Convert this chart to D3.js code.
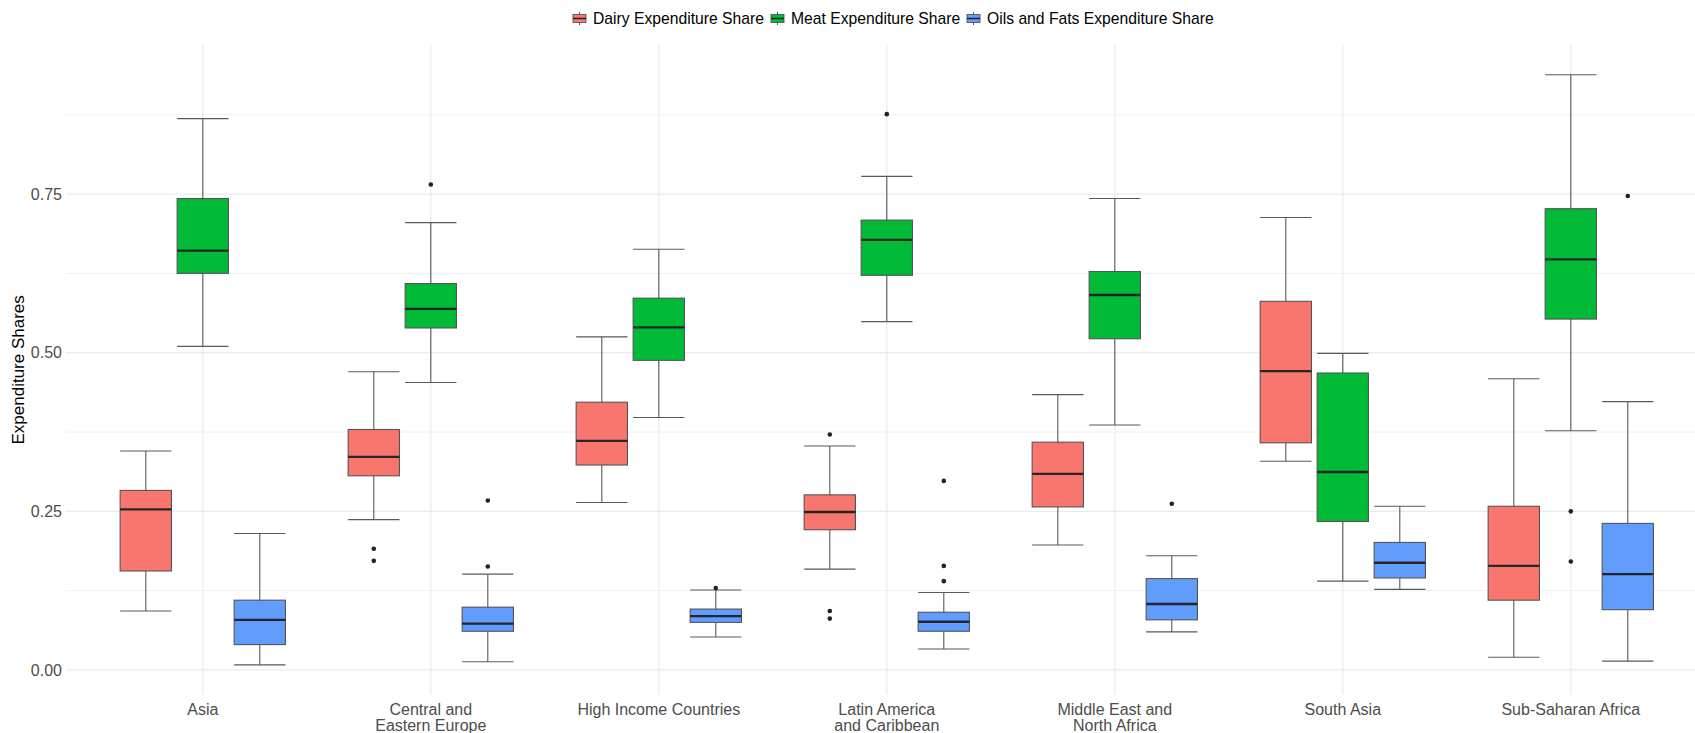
<!DOCTYPE html>
<html>
<head>
<meta charset="utf-8">
<script src="https://cdn.jsdelivr.net/npm/d3@7"></script>
<style>
  html, body { margin: 0; padding: 0; background: #ffffff; }
  svg { display: block; font-family: "Liberation Sans", Arial, sans-serif; }
</style>
</head>
<body>
<svg id="chart" width="1695" height="733"></svg>
<script>
// ---------- data ----------
const categories = [
  "Asia",
  "Central and\nEastern Europe",
  "High Income Countries",
  "Latin America\nand Caribbean",
  "Middle East and\nNorth Africa",
  "South Asia",
  "Sub-Saharan Africa"
];
const seriesNames = ["Dairy Expenditure Share", "Meat Expenditure Share", "Oils and Fats Expenditure Share"];
const seriesColors = ["#F8766D", "#00BA38", "#619CFF"];
const yTicks = [0, 0.25, 0.5, 0.75];
const yTickLabels = ["0.00", "0.25", "0.50", "0.75"];
const yMinorTicks = [0.125, 0.375, 0.625, 0.875];

// [whisker low, Q1, median, Q3, whisker high]
const dairyStats = [
  [0.093, 0.156, 0.253, 0.283, 0.345],
  [0.237, 0.306, 0.336, 0.379, 0.470],
  [0.264, 0.323, 0.361, 0.422, 0.525],
  [0.159, 0.221, 0.249, 0.276, 0.353],
  [0.197, 0.257, 0.309, 0.359, 0.434],
  [0.329, 0.358, 0.471, 0.581, 0.713],
  [0.020, 0.110, 0.164, 0.258, 0.459]
];
const dairyOutliers = [[], [0.191, 0.172], [], [0.371, 0.093, 0.081], [], [], []];

const meatStats = [
  [0.510, 0.625, 0.661, 0.743, 0.869],
  [0.453, 0.539, 0.569, 0.609, 0.705],
  [0.398, 0.488, 0.540, 0.586, 0.663],
  [0.549, 0.622, 0.678, 0.709, 0.778],
  [0.386, 0.522, 0.591, 0.628, 0.743],
  [0.140, 0.234, 0.312, 0.468, 0.499],
  [0.377, 0.553, 0.647, 0.727, 0.938]
];
const meatOutliers = [[], [0.765], [], [0.876], [], [], [0.250, 0.171]];

const oilsStats = [
  [0.008, 0.040, 0.079, 0.110, 0.215],
  [0.013, 0.061, 0.073, 0.099, 0.151],
  [0.052, 0.075, 0.085, 0.096, 0.126],
  [0.033, 0.061, 0.076, 0.091, 0.122],
  [0.060, 0.079, 0.104, 0.144, 0.180],
  [0.127, 0.145, 0.169, 0.201, 0.258],
  [0.014, 0.095, 0.151, 0.231, 0.423]
];
const oilsOutliers = [[], [0.267, 0.163], [0.129], [0.298, 0.164, 0.140], [0.262], [], [0.747]];

const allStats = [dairyStats, meatStats, oilsStats];
const allOutliers = [dairyOutliers, meatOutliers, oilsOutliers];
const dodgeOffsets = [-0.25, 0, 0.25];

// ---------- layout ----------
const W = 1695, H = 733;
const panel = { left: 66, right: 1707.6, top: 45.3, bottom: 694.4 };
const svg = d3.select("#chart");

const x = d3.scaleLinear().domain([-0.6, categories.length - 1 + 0.6]).range([panel.left, panel.right]);
const y = d3.scaleLinear().domain([-0.0385, 0.9845]).range([panel.bottom, panel.top]);
const boxW = x(0.225) - x(0);

// ---------- grid ----------
const grid = svg.append("g");
grid.selectAll("line.minor").data(yMinorTicks).enter().append("line")
  .attr("x1", panel.left).attr("x2", W)
  .attr("y1", d => y(d)).attr("y2", d => y(d))
  .attr("stroke", "#EBEBEB").attr("stroke-width", 0.7);
grid.selectAll("line.major").data(yTicks).enter().append("line")
  .attr("x1", panel.left).attr("x2", W)
  .attr("y1", d => y(d)).attr("y2", d => y(d))
  .attr("stroke", "#EBEBEB").attr("stroke-width", 1.3);
grid.selectAll("line.vmajor").data(categories).enter().append("line")
  .attr("x1", (d, i) => x(i)).attr("x2", (d, i) => x(i))
  .attr("y1", panel.top).attr("y2", panel.bottom)
  .attr("stroke", "#EBEBEB").attr("stroke-width", 1.3);

// ---------- boxes ----------
const marks = svg.append("g");
allStats.forEach((stats, s) => {
  const g = marks.append("g");
  stats.forEach((st, i) => {
    const cx = x(i + dodgeOffsets[s]);
    g.append("line").attr("x1", cx).attr("x2", cx)
      .attr("y1", y(st[0])).attr("y2", y(st[4]))
      .attr("stroke", "#595959").attr("stroke-width", 1.1);
    [st[0], st[4]].forEach(v => {
      g.append("line").attr("x1", cx - boxW / 2).attr("x2", cx + boxW / 2)
        .attr("y1", y(v)).attr("y2", y(v))
        .attr("stroke", "#595959").attr("stroke-width", 1.1);
    });
    g.append("rect").attr("x", cx - boxW / 2).attr("width", boxW)
      .attr("y", y(st[3])).attr("height", y(st[1]) - y(st[3]))
      .attr("fill", seriesColors[s]).attr("stroke", "#555555").attr("stroke-width", 1.1);
    g.append("line").attr("x1", cx - boxW / 2).attr("x2", cx + boxW / 2)
      .attr("y1", y(st[2])).attr("y2", y(st[2]))
      .attr("stroke", "#262626").attr("stroke-width", 2.3);
    g.selectAll(null).data(allOutliers[s][i]).enter().append("circle")
      .attr("cx", cx).attr("cy", d => y(d)).attr("r", 2.3)
      .attr("fill", "#222222");
  });
});

// ---------- axes text ----------
const yAxisG = svg.append("g");
yAxisG.selectAll("text").data(yTicks).enter().append("text")
  .attr("x", 62).attr("y", d => y(d)).attr("dy", "0.35em")
  .attr("text-anchor", "end").attr("font-size", 16).attr("fill", "#4D4D4D")
  .text((d, i) => yTickLabels[i]);

const xAxisG = svg.append("g");
categories.forEach((c, i) => {
  const t = xAxisG.append("text").attr("text-anchor", "middle")
    .attr("font-size", 16).attr("fill", "#4D4D4D");
  c.split("\n").forEach((line, k) => {
    t.append("tspan").attr("x", x(i)).attr("y", 715 + k * 16).text(line);
  });
});

svg.append("text")
  .attr("transform", `translate(24, ${(panel.top + panel.bottom) / 2}) rotate(-90)`)
  .attr("text-anchor", "middle").attr("font-size", 17).attr("fill", "#000")
  .text("Expenditure Shares");

// ---------- legend ----------
const legend = svg.append("g");
const legendKeyX = [573, 771, 967];
const ly = 18.5;
seriesNames.forEach((name, s) => {
  const lx = legendKeyX[s];
  const kc = lx + 6.5;
  legend.append("line").attr("x1", kc).attr("x2", kc).attr("y1", ly - 6.5).attr("y2", ly + 6.5)
    .attr("stroke", "#595959").attr("stroke-width", 1);
  legend.append("rect").attr("x", lx).attr("y", ly - 4).attr("width", 13).attr("height", 8)
    .attr("fill", seriesColors[s]).attr("stroke", "#555555").attr("stroke-width", 0.9);
  legend.append("line").attr("x1", lx).attr("x2", lx + 13).attr("y1", ly).attr("y2", ly)
    .attr("stroke", "#262626").attr("stroke-width", 1.5);
  legend.append("text").attr("x", lx + 20).attr("y", ly).attr("dy", "0.35em")
    .attr("font-size", 15.7).attr("fill", "#000").text(name);
});
</script>
</body>
</html>
